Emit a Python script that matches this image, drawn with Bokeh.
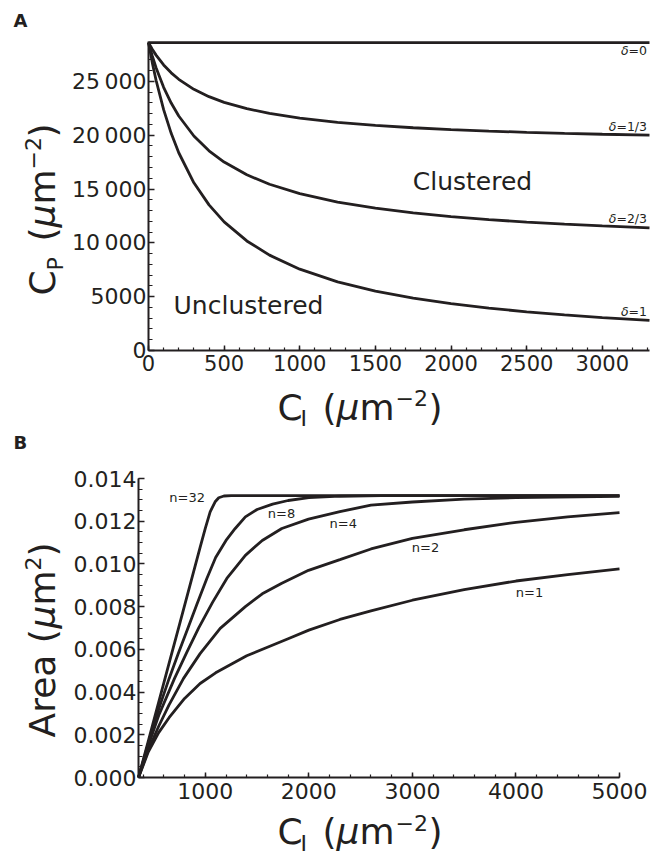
import math
from bokeh.plotting import figure
from bokeh.models import Range1d, FixedTicker, Label, NumeralTickFormatter, LinearAxis, Grid
from bokeh.layouts import column
from bokeh.embed import file_html
from bokeh.resources import INLINE

INK = "#231f20"
FONT = "DejaVu Sans"

# ---------------- Panel A data ----------------
ci_a = [0, 25, 50, 100, 150, 200, 300, 400, 500, 650, 800, 1000, 1250, 1500,
        1750, 2000, 2250, 2500, 2750, 3000, 3312]
cp_d0 = [28600] * len(ci_a)
cp_d13 = [28600, 27980, 27435, 26523, 25791, 25189, 24260, 23576, 23051, 22459,
          22020, 21585, 21194, 20908, 20690, 20518, 20379, 20264, 20168, 20086, 19999]
cp_d23 = [28600, 27359, 26268, 24445, 22981, 21778, 19920, 18552, 17502, 16317,
          15439, 14570, 13787, 13215, 12778, 12434, 12156, 11927, 11734, 11571, 11398]
cp_d1 = [28600, 26739, 25103, 22368, 20172, 18367, 15580, 13528, 11953, 10176,
         8859, 7555, 6381, 5523, 4868, 4352, 3935, 3591, 3302, 3057, 2797]
a_series = [cp_d0, cp_d13, cp_d23, cp_d1]
a_names = ["=0", "=1/3", "=2/3", "=1"]
a_xticks = [0, 500, 1000, 1500, 2000, 2500, 3000]
a_yticks = [0, 5000, 10000, 15000, 20000, 25000]
a_ylabels = ["0", "5000", "10\u2009000", "15\u2009000", "20\u2009000", "25\u2009000"]

# ---------------- Panel B data ----------------
x_n32 = [355, 450, 550, 650, 750, 850, 950, 1000, 1047, 1095, 1130, 1180, 1250, 5000]
a_n32 = [0, 0.00172, 0.00353, 0.00534, 0.00715, 0.00896, 0.01077, 0.01166, 0.01244,
         0.01291, 0.01310, 0.01318, 0.0132, 0.0132]
x_n8 = [355, 450, 550, 651, 740, 831, 920, 1015, 1100, 1200, 1289, 1387, 1500, 1650,
        1800, 2000, 2300, 2700, 5000]
a_n8 = [0, 0.0016, 0.0032, 0.00464, 0.00582, 0.00698, 0.00812, 0.00932, 0.0103,
        0.0111, 0.01166, 0.0122, 0.01255, 0.0128, 0.01297, 0.0131, 0.01317, 0.0132, 0.0132]
x_n4 = [355, 450, 550, 703, 820, 934, 1070, 1208, 1387, 1550, 1739, 1997, 2300, 2600,
        3000, 3500, 4000, 5000]
a_n4 = [0, 0.0015, 0.0029, 0.00464, 0.00585, 0.00698, 0.0082, 0.00932, 0.0104, 0.0111,
        0.01166, 0.0121, 0.01245, 0.01275, 0.0129, 0.01303, 0.0131, 0.01316]
x_n2 = [355, 450, 550, 650, 790, 950, 1144, 1387, 1550, 1739, 1997, 2300, 2600, 3000,
        3500, 4000, 4500, 5000]
a_n2 = [0, 0.0013, 0.0024, 0.0034, 0.00464, 0.0058, 0.00698, 0.0080, 0.0086, 0.0091,
        0.0097, 0.0102, 0.0107, 0.0112, 0.0116, 0.01195, 0.0122, 0.0124]
x_n1 = [355, 450, 550, 650, 800, 950, 1100, 1250, 1400, 1600, 1800, 2000, 2300, 2600,
        3000, 3500, 4000, 4500, 5000]
a_n1 = [0, 0.0012, 0.0021, 0.0028, 0.0037, 0.0044, 0.0049, 0.0053, 0.0057, 0.0061,
        0.0065, 0.0069, 0.0074, 0.0078, 0.0083, 0.0088, 0.0092, 0.0095, 0.00977]
b_series = [(x_n32, a_n32), (x_n8, a_n8), (x_n4, a_n4), (x_n2, a_n2), (x_n1, a_n1)]
b_names = ["n=32", "n=8", "n=4", "n=2", "n=1"]
b_xticks = [1000, 2000, 3000, 4000, 5000]
b_yticks = [0, 0.002, 0.004, 0.006, 0.008, 0.010, 0.012, 0.014]

# ---------------- layout constants (page pixels) ----------------
W = 664
HA, HB = 431, 426
A_L, A_R, A_T, A_B = 148, 649, 41, 350          # plot box of panel A
A_X0, A_X1, A_Y0, A_Y1 = 0, 3312, 0, 28700
B_L, B_R, B_T, B_B = 138, 619, 478, 777          # plot box of panel B
B_X0, B_X1, B_Y0, B_Y1 = 355, 5000, 0, 0.014


def ax_(px):
    return A_X0 + (px - A_L) / (A_R - A_L) * (A_X1 - A_X0)


def ay_(py):
    return A_Y0 + (A_B - py) / (A_B - A_T) * (A_Y1 - A_Y0)


def bx_(px):
    return B_X0 + (px - B_L) / (B_R - B_L) * (B_X1 - B_X0)


def by_(py):
    return B_Y0 + (B_B - py) / (B_B - B_T) * (B_Y1 - B_Y0)


def lbl(p, x, y, text, size, style="normal", angle=0.0, align="left",
        baseline="middle", x_offset=0):
    p.add_layout(Label(x=x, y=y, text=text, text_font=FONT,
                       text_font_size=f"{size}px", text_font_style=style,
                       text_color=INK, angle=angle, text_align=align,
                       text_baseline=baseline, x_offset=x_offset))


def make_axis(bounds, ticker, size, tick_in, minor_in, standoff, **kw):
    axis = LinearAxis(bounds=bounds, ticker=ticker, **kw)
    axis.axis_line_width = 2
    axis.axis_line_color = INK
    axis.major_tick_line_color = INK
    axis.minor_tick_line_color = INK
    axis.major_tick_line_width = 1.5
    axis.minor_tick_line_width = 1.2
    axis.major_tick_out = 0
    axis.minor_tick_out = 0
    axis.major_tick_in = tick_in
    axis.minor_tick_in = minor_in
    axis.major_label_text_font = FONT
    axis.major_label_text_color = INK
    axis.major_label_text_font_size = f"{size}px"
    axis.major_label_standoff = standoff
    return axis


def no_grid(p):
    for r in list(p.center):
        if isinstance(r, Grid):
            r.visible = False


# ---------------- Figure A ----------------
pA = figure(width=W, height=HA, output_backend="svg", toolbar_location=None,
            x_range=Range1d(ax_(0), ax_(W)), y_range=Range1d(ay_(HA), ay_(0)),
            x_axis_location=None, y_axis_location=None, min_border=0)
pA.outline_line_color = None
no_grid(pA)

xa = make_axis((A_X0, A_X1),
               FixedTicker(ticks=a_xticks, minor_ticks=[v * 100 for v in range(0, 34)]),
               21, 5, 3, 4)
xa.fixed_location = A_Y0
xa.major_label_overrides = {t: str(t) for t in a_xticks}
pA.add_layout(xa, "below")
ya = make_axis((A_Y0, A_Y1),
               FixedTicker(ticks=a_yticks, minor_ticks=[v * 1000 for v in range(0, 29)]),
               22, 6, 4, 2)
ya.fixed_location = A_X0
ya.major_label_overrides = {t: s for t, s in zip(a_yticks, a_ylabels)}
pA.add_layout(ya, "left")

for ys in a_series:
    pA.line(ci_a, ys, line_color=INK, line_width=2.8)

# curve labels (right aligned near the right edge)
a_label_y = [50, 126, 218, 311]
for name, py in zip(a_names, a_label_y):
    w = sum({"=": 0.838, "0": 0.636, "1": 0.636, "2": 0.636, "3": 0.636,
             "/": 0.337}[c] for c in name) * 12.5
    lbl(pA, ax_(646.5), ay_(py), name, 12.5, align="right")
    lbl(pA, ax_(646.5), ay_(py), "\u03b4", 12.5, style="italic", align="right",
        x_offset=-w)

lbl(pA, ax_(472), ay_(181), "Clustered", 25, align="center")
lbl(pA, ax_(248), ay_(305), "Unclustered", 25, align="center")
lbl(pA, ax_(13), ay_(20), "A", 18, style="bold")

# x-axis label C_I (μm^-2)   (y = vertical centre of capitals)
for x, y, t, s, st in [(277, 407, "C", 36, "normal"), (300, 417.5, "I", 22, "normal"),
                       (322, 407, "(", 36, "normal"), (336, 407, "\u03bc", 36, "italic"),
                       (359, 407, "m", 36, "normal"), (395, 397, "\u22122", 22, "normal"),
                       (428, 407, ")", 36, "normal")]:
    lbl(pA, ax_(x), ay_(y), t, s, style=st)

# y-axis label C_P (μm^-2), rotated (x = horizontal centre of capitals)
R = math.pi / 2
for bx, y, t, s, st in [(42, 295, "C", 36, "normal"), (55, 270, "P", 22, "normal"),
                        (42, 241, "(", 36, "normal"), (42, 227, "\u03bc", 36, "italic"),
                        (42, 204, "m", 36, "normal"), (32, 169, "\u22122", 22, "normal"),
                        (42, 137, ")", 36, "normal")]:
    lbl(pA, ax_(bx), ay_(y), t, s, style=st, angle=R)

# ---------------- Figure B ----------------
pB = figure(width=W, height=HB, output_backend="svg", toolbar_location=None,
            x_range=Range1d(bx_(0), bx_(W)), y_range=Range1d(by_(HA + HB), by_(HA)),
            x_axis_location=None, y_axis_location=None, min_border=0)
pB.outline_line_color = None
no_grid(pB)

xb = make_axis((B_X0, B_X1),
               FixedTicker(ticks=b_xticks, minor_ticks=[v * 200 for v in range(2, 26)]),
               22, 5, 3, 5)
xb.fixed_location = B_Y0
xb.major_label_overrides = {t: str(t) for t in b_xticks}
pB.add_layout(xb, "below")
yb = make_axis((B_Y0, B_Y1),
               FixedTicker(ticks=b_yticks, minor_ticks=[v * 0.0005 for v in range(0, 29)]),
               22, 6, 4, 2, formatter=NumeralTickFormatter(format="0.000"))
yb.fixed_location = B_X0
pB.add_layout(yb, "left")

for xs, ys in b_series:
    pB.line(xs, ys, line_color=INK, line_width=2.8)

b_label_pos = [(186.7, 497.3), (281, 513.3), (342.7, 522.7), (425, 547.3), (529, 591.7)]
for name, (px, py) in zip(b_names, b_label_pos):
    lbl(pB, bx_(px), by_(py), name, 13, align="center")

lbl(pB, bx_(13), by_(441.5), "B", 18, style="bold")

for x, y, t, s, st in [(277, 831, "C", 36, "normal"), (300, 843, "I", 22, "normal"),
                       (322, 831, "(", 36, "normal"), (336, 831, "\u03bc", 36, "italic"),
                       (359, 831, "m", 36, "normal"), (395, 822, "\u22122", 22, "normal"),
                       (428, 831, ")", 36, "normal")]:
    lbl(pB, bx_(x), by_(y), t, s, style=st)

for bx, y, t, s, st in [(42, 737, "Area (", 36, "normal"), (42, 628, "\u03bc", 36, "italic"),
                        (42, 605, "m", 36, "normal"), (32, 570, "2", 22, "normal"),
                        (42, 556, ")", 36, "normal")]:
    lbl(pB, bx_(bx), by_(y), t, s, style=st, angle=R)

layout = column(pA, pB)
open("out.html", "w").write(file_html(layout, INLINE))
